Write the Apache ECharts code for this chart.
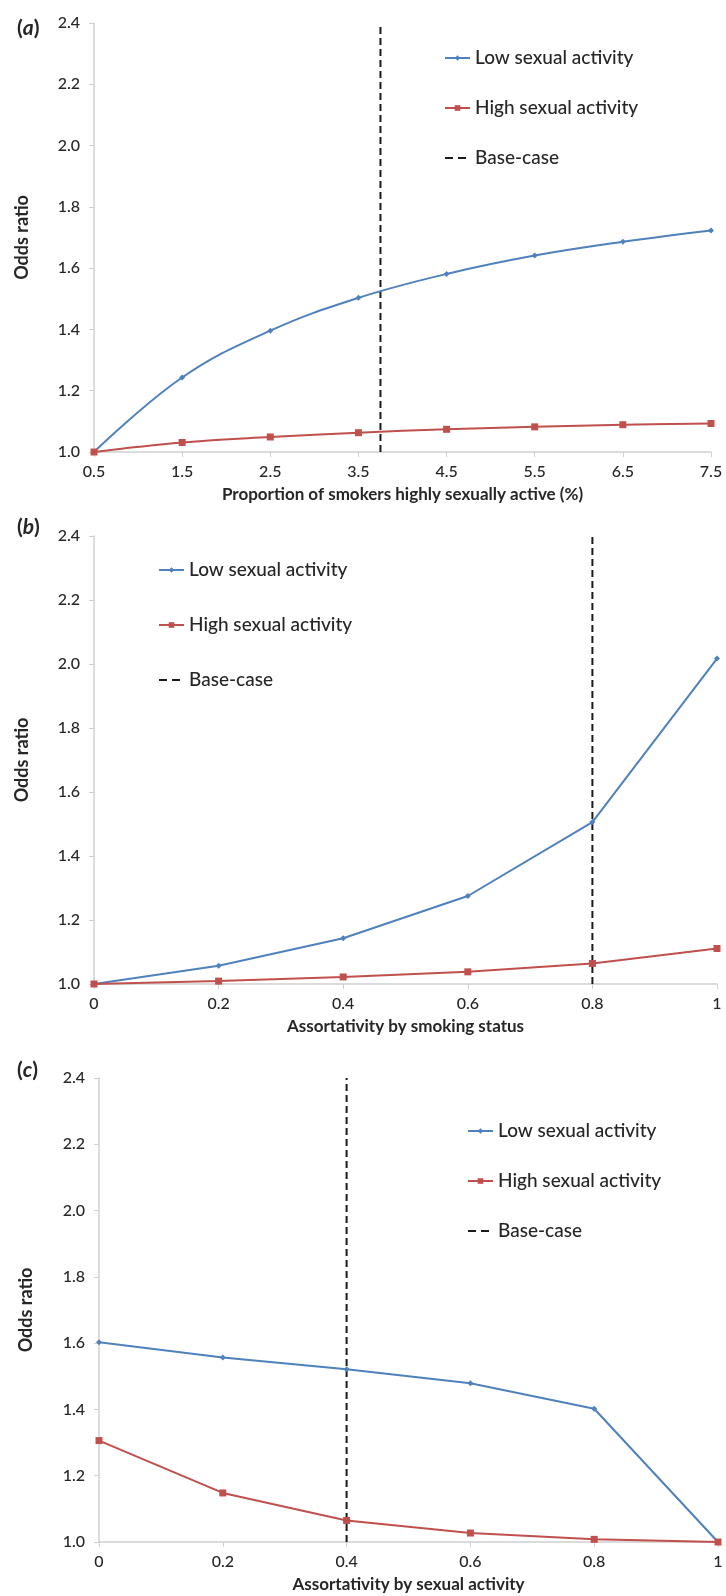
<!DOCTYPE html>
<html>
<head>
<meta charset="utf-8">
<script src="https://cdn.jsdelivr.net/npm/echarts@6/dist/echarts.min.js"></script>
<style>
html,body{margin:0;padding:0;background:#fff;}
#chart{width:726px;height:1596px;}
</style>
</head>
<body>
<div id="chart"></div>
<script>
// ---- data ----
const aCategories = ['0.5','1.5','2.5','3.5','4.5','5.5','6.5','7.5'];
const aXValues = [0.5,1.5,2.5,3.5,4.5,5.5,6.5,7.5];
const aLow  = [1.000,1.243,1.396,1.503,1.581,1.641,1.686,1.723];
const aHigh = [1.000,1.031,1.049,1.063,1.074,1.082,1.089,1.093];
const aBase = 3.75;

const bXValues = [0,0.2,0.4,0.6,0.8,1];
const bLow  = [1.000,1.057,1.143,1.275,1.506,2.017];
const bHigh = [1.000,1.009,1.022,1.038,1.064,1.111];
const bBase = 0.8;

const cXValues = [0,0.2,0.4,0.6,0.8,1];
const cLow  = [1.603,1.557,1.521,1.479,1.402,1.000];
const cHigh = [1.306,1.148,1.065,1.027,1.008,1.000];
const cBase = 0.4;

const yMin = 1.0, yMax = 2.4, yStep = 0.2;

const LOW = 'Low sexual activity', HIGH = 'High sexual activity', BASE = 'Base-case';
const xTitles = ['Proportion of smokers highly sexually active (%)','Assortativity by smoking status','Assortativity by sexual activity'];
const panelLabels = ['a','b','c'];

// ---- styles ----
const FONT = 'Lato, "Liberation Sans", sans-serif';
const BLUE = '#4F81BD', RED = '#C0504D', AXIS = '#d0d0d0', TXT = '#262626';

const pair = (xs, ys) => xs.map((x, i) => [x, ys[i]]);

const grids = [
  {left: 94, right: 15, top: 23, height: 429},
  {left: 94, right: 9, top: 536, height: 448},
  {left: 99, right: 8, top: 1078, height: 464}
];

function yAxis(gi) {
  return {
    type: 'value', gridIndex: gi, min: yMin, max: yMax, interval: yStep,
    name: 'Odds ratio', nameLocation: 'middle', nameGap: gi === 2 ? 64 : 63,
    nameTextStyle: {fontFamily: FONT, fontWeight: 'bold', fontSize: 18, color: TXT},
    axisLine: {show: true, lineStyle: {color: AXIS, width: 1.5}},
    axisTick: {show: true, length: 5, lineStyle: {color: AXIS}},
    splitLine: {show: false},
    axisLabel: {fontFamily: FONT, fontSize: 16, fontWeight: 500, color: TXT, margin: 14, formatter: v => v.toFixed(1)}
  };
}
const xName = (i) => ({
  name: xTitles[i], nameLocation: 'middle', nameGap: 34,
  nameTextStyle: {fontFamily: FONT, fontWeight: 'bold', fontSize: 17, color: TXT}
});
const xCommon = {
  axisLine: {show: true, lineStyle: {color: AXIS, width: 1.5}},
  axisTick: {show: true, length: 5, lineStyle: {color: AXIS}},
  splitLine: {show: false},
  axisLabel: {fontFamily: FONT, fontSize: 16, fontWeight: 500, color: TXT, margin: 12}
};

const xAxes = [
  Object.assign({type: 'category', gridIndex: 0, data: aCategories, boundaryGap: false}, xCommon, xName(0),
    {axisTick: {show: true, alignWithLabel: true, length: 5, lineStyle: {color: AXIS}}}),
  {type: 'value', gridIndex: 0, min: 0.5, max: 7.5, show: false},
  Object.assign({type: 'value', gridIndex: 1, min: 0, max: 1, interval: 0.2}, xCommon, xName(1)),
  Object.assign({type: 'value', gridIndex: 2, min: 0, max: 1, interval: 0.2}, xCommon, xName(2))
];

function lowSeries(xi, yi, data, smooth) {
  return {name: LOW, type: 'line', xAxisIndex: xi, yAxisIndex: yi, data: data, smooth: smooth,
    symbol: 'diamond', symbolSize: 6, lineStyle: {color: BLUE, width: 2}, itemStyle: {color: BLUE}, z: 3};
}
function highSeries(xi, yi, data, smooth) {
  return {name: HIGH, type: 'line', xAxisIndex: xi, yAxisIndex: yi, data: data, smooth: smooth,
    symbol: 'rect', symbolSize: 7, lineStyle: {color: RED, width: 2}, itemStyle: {color: RED}, z: 3};
}
function baseSeries(xi, yi, x) {
  return {name: BASE, type: 'line', xAxisIndex: xi, yAxisIndex: yi, data: [[x, yMin], [x, yMax]],
    symbol: 'none', lineStyle: {color: '#1a1a1a', width: 2, type: [7, 4]}, itemStyle: {color: '#1a1a1a'}, z: 2};
}

const series = [
  lowSeries(1, 0, pair(aXValues, aLow), 0.4),
  highSeries(1, 0, pair(aXValues, aHigh), 0.4),
  baseSeries(1, 0, aBase),
  lowSeries(2, 1, pair(bXValues, bLow), false),
  highSeries(2, 1, pair(bXValues, bHigh), false),
  baseSeries(2, 1, bBase),
  lowSeries(3, 2, pair(cXValues, cLow), false),
  highSeries(3, 2, pair(cXValues, cHigh), false),
  baseSeries(3, 2, cBase)
];

function legend(left, top, gap) {
  return {
    orient: 'vertical', left: left, top: top, itemGap: gap, itemWidth: 25, itemHeight: 7,
    textStyle: {fontFamily: FONT, fontSize: 19, fontWeight: 500, color: TXT, lineHeight: 22},
    data: [LOW, HIGH, {name: BASE, itemStyle: {opacity: 0}, lineStyle: {type: [8, 5], width: 2, color: '#1a1a1a'}}],
    selectedMode: false
  };
}

const titles = panelLabels.map((p, i) => ({
  text: '{n|(}{i|' + p + '}{n|)}',
  left: 12, top: [13, 512, 1055][i],
  textStyle: {rich: {
    n: {fontFamily: FONT, fontSize: 21, color: TXT},
    i: {fontFamily: FONT, fontSize: 21, fontStyle: 'italic', color: TXT}
  }}
}));

const chart = echarts.init(document.getElementById('chart'), null, {renderer: 'canvas'});
chart.setOption({
  backgroundColor: '#fff',
  animation: false,
  title: titles,
  grid: grids,
  xAxis: xAxes,
  yAxis: [yAxis(0), yAxis(1), yAxis(2)],
  legend: [legend(439, 42, 28), legend(153, 554, 33), legend(462, 1115, 28)],
  series: series
});
</script>
</body>
</html>
